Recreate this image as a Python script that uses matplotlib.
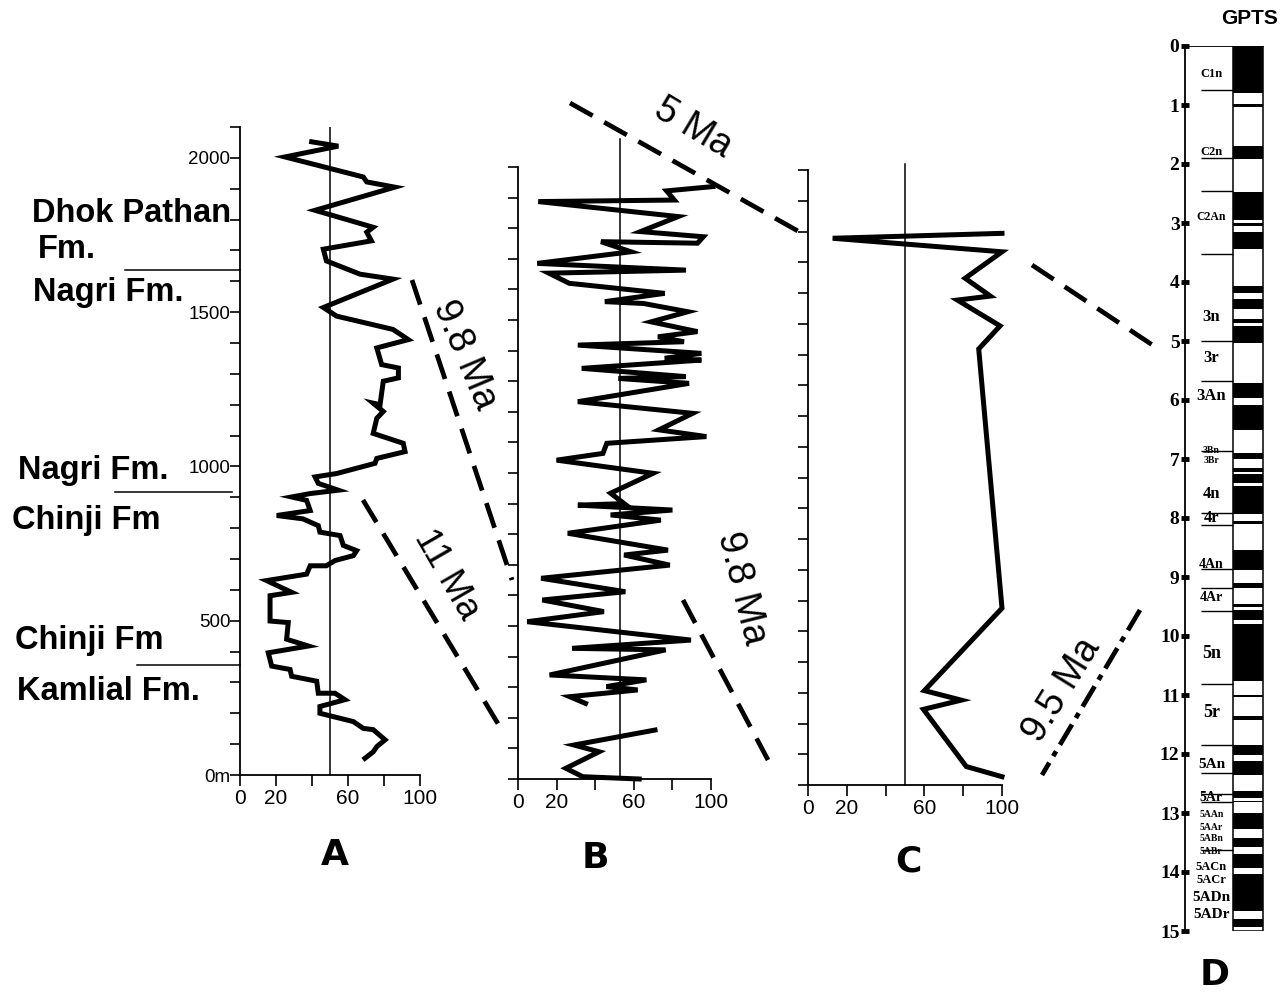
import numpy as np
import matplotlib.pyplot as plt
from matplotlib.ticker import FixedLocator

W, H = 1281, 992

# ---------------- data ----------------
# Panel A: value vs stratigraphic level (m)
a_val = [39.8, 54.6, 25, 68.5, 70.4, 86, 41.7, 74, 70.4, 73, 46.3, 48, 66.7, 85, 46.3,
         53.7, 85, 93.5, 76, 78.7, 88, 88, 79.6, 77.8, 74, 79.6, 76, 74, 90.7, 91.7,
         76, 75, 53.7, 41.7, 43.5, 54.6, 38.9, 28.7, 37, 39, 20.4, 35, 43.5, 44.4, 55.6,
         57.4, 64.8, 63, 52.8, 48, 39, 37, 14.8, 28.7, 16.7, 16.7, 26.8, 25.9, 38, 15.7,
         17.6, 27.8, 28.7, 42.6, 43.5, 52.8, 58.3, 44.4, 44.4, 63, 68.5, 74, 80.6, 76,
         74, 69.4]
a_dep = [2052, 2038, 2003, 1938, 1922, 1905, 1830, 1775, 1759, 1731, 1704, 1666, 1623,
         1607, 1515, 1487, 1444, 1411, 1384, 1330, 1319, 1287, 1276, 1200, 1205, 1178,
         1156, 1107, 1075, 1048, 1026, 1010, 977, 966, 945, 923, 912, 901, 890, 857, 841,
         830, 808, 787, 776, 744, 727, 711, 695, 678, 678, 651, 630, 592, 581, 499, 494,
         440, 418, 396, 353, 342, 320, 304, 265, 265, 244, 222, 200, 173, 151, 147, 114,
         92, 75, 54]

# Panel B
b_val = [101, 77, 81, 10.5, 83, 63.5, 96, 93, 43, 58.5, 10, 87, 16, 26.5, 76, 45, 65, 88,
         69, 93, 72.5, 86, 31, 95, 76, 95, 33, 87, 52, 88.6, 31, 90.5, 73, 97.6, 46, 44,
         20, 70, 48, 55, 31, 80, 48, 74, 25.8, 77.7, 55, 78.6, 12, 55.6, 12.6, 44.5, 4.8,
         89.6, 28, 76.5, 16.4, 66.5, 45.8, 62, 26.8, 35, np.nan, 71, 29, 42, 24.8, 33.5,
         62.8]
b_dep = [1936, 1922, 1892, 1887, 1838, 1789, 1772, 1751, 1756, 1723, 1685, 1663, 1653,
         1620, 1587, 1560, 1554, 1527, 1494, 1462, 1445, 1429, 1418, 1391, 1375, 1369,
         1342, 1315, 1309, 1293, 1233, 1195, 1141, 1119, 1097, 1064, 1042, 999, 934, 900,
         895, 879, 863, 846, 803, 748, 732, 699, 656, 612, 585, 547, 514, 454, 427, 422,
         340, 324, 302, 291, 269, 247, np.nan, 160, 111, 89, 35, 7.5, 0]

# Panel C
c_val = [100, 12.7, 100, 81, 94, 77, 99, 88, 100, 60, 79, 59.5, 81.6, 100]
c_dep = [1794, 1778, 1734, 1648, 1590, 1577, 1493, 1418, 575, 307, 276, 246, 60, 27]

ref_val = {'A': 50, 'B': 53, 'C': 50}

# Panel D: GPTS normal-polarity intervals (Ma)
gpts_top = [0, 0.98, 1.70, 2.47, 3.0, 3.15, 4.07, 4.29, 4.62, 4.75, 5.72, 6.08, 6.89,
            7.15, 7.26, 7.46, 8.05, 8.54, 9.11, 9.45, 9.56, 9.79, 11.0, 11.35, 11.84,
            12.12, 12.62, 12.79, 13.0, 13.42, 13.70, 14.03, 14.80]
gpts_bot = [0.80, 1.04, 1.92, 2.95, 3.05, 3.44, 4.18, 4.45, 4.70, 5.03, 5.97, 6.51, 7.0,
            7.22, 7.40, 7.93, 8.10, 8.88, 9.18, 9.51, 9.73, 10.77, 11.04, 11.42, 12.01,
            12.35, 12.74, 12.82, 13.27, 13.58, 13.94, 14.66, 14.94]
chron_names = ['C1n', 'C2n', 'C2An', '3n', '3r', '3An', '3Bn', '3Br', '4n', '4r', '4An',
               '4Ar', '5n', '5r', '5An', '5Ar', '5AAn', '5AAr', '5ABn', '5ABr', '5ACn',
               '5ACr', '5ADn', '5ADr']
chron_age = [0.47, 1.8, 2.9, 4.6, 5.28, 5.93, 6.85, 7.02, 7.59, 8.0, 8.78, 9.35, 10.3,
             11.3, 12.17, 12.74, 13.02, 13.25, 13.44, 13.65, 13.92, 14.13, 14.43, 14.72]
chron_size = [9, 9, 8.5, 12, 12, 12, 7, 7, 12, 12, 10, 10, 13, 13, 11, 10, 7, 7, 7, 7,
              9, 9, 11, 11]
chron_bounds = [0.75, 1.9, 2.45, 3.53, 5.0, 5.67, 6.87, 7.91, 8.12, 8.87, 9.18, 9.58,
                10.81, 11.85, 12.32, 12.68, 12.82, 13.62]

plt.rcParams['font.family'] = ['Liberation Sans', 'DejaVu Sans']

fig = plt.figure(figsize=(W / 100, H / 100), dpi=100)


def px_axes(x0, y0, x1, y1):
    return fig.add_axes([x0 / W, 1 - y1 / H, (x1 - x0) / W, (y1 - y0) / H])


def style_log(ax, top, labels):
    for s in ['top', 'right']:
        ax.spines[s].set_visible(False)
    ax.spines['left'].set_linewidth(1.3)
    ax.spines['bottom'].set_linewidth(1.3)
    ax.set_xlim(0, 100)
    ax.set_ylim(0, top)
    ax.xaxis.set_major_locator(FixedLocator([0, 20, 40, 60, 80, 100]))
    ax.set_xticklabels(['0', '20', '', '60', '', '100'], fontsize=15)
    yt = np.arange(0, top + 1, 100)
    ax.yaxis.set_major_locator(FixedLocator(yt))
    if labels:
        ax.set_yticklabels([('0m' if v == 0 else str(int(v))) if v % 500 == 0 else ''
                            for v in yt], fontsize=13.5)
    else:
        ax.set_yticklabels([])
    ax.tick_params(direction='out', length=8, width=1.2, pad=2)
    ax.tick_params(axis='y', length=7, pad=0)
    ax.patch.set_alpha(0)


# Panel A
axA = px_axes(240, 127, 420, 775)
style_log(axA, 2100, True)
axA.axvline(ref_val['A'], color='black', lw=1.1)
axA.plot(a_val, a_dep, color='black', lw=3.6, solid_joinstyle='miter', clip_on=False)

# Panel B
axB = px_axes(518, 167, 711, 779)
style_log(axB, 2000, False)
axB.plot([ref_val['B']] * 2, [0, 2090], color='black', lw=1.1, clip_on=False)
axB.plot(b_val, b_dep, color='black', lw=3.6, solid_joinstyle='miter', clip_on=False)

# Panel C
axC = px_axes(808, 170, 1002, 785)
style_log(axC, 2000, False)
axC.plot([ref_val['C']] * 2, [0, 2020], color='black', lw=1.1, clip_on=False)
axC.plot(c_val, c_dep, color='black', lw=3.6, solid_joinstyle='miter', clip_on=False)

# Panel D: GPTS
axD = px_axes(1185, 46, 1265, 931)
axD.set_xlim(0, 1)
axD.set_ylim(15, 0)
for s in ['top', 'right', 'bottom']:
    axD.spines[s].set_visible(False)
axD.spines['left'].set_linewidth(1.3)
axD.set_xticks([])
axD.set_yticks(np.arange(0, 16))
axD.set_yticklabels([str(i) for i in range(16)], fontsize=14, fontweight='bold',
                    family='Liberation Serif')
axD.tick_params(axis='y', direction='inout', length=6, width=3.5, pad=1)
col_x0, col_x1 = 0.6, 0.98
axD.bar((col_x0 + col_x1) / 2, np.array(gpts_bot) - np.array(gpts_top),
        bottom=gpts_top, width=col_x1 - col_x0, color='black', edgecolor='none')
axD.plot([col_x0, col_x0, col_x1, col_x1], [0, 15, 15, 0], color='black', lw=1.1)
axD.plot([0, col_x1], [0, 0], color='black', lw=1.3)
axD.hlines(chron_bounds, 0.2, col_x0, color='black', lw=1.0)
for name, age, fs in zip(chron_names, chron_age, chron_size):
    axD.text(0.33, age, name, fontsize=fs, fontweight='bold', family='Liberation Serif',
             ha='center', va='center')
axD.patch.set_alpha(0)

# ---------------- annotation overlay (pixel coordinates) ----------------
ov = fig.add_axes([0, 0, 1, 1])
ov.set_xlim(0, W)
ov.set_ylim(H, 0)
ov.axis('off')
ov.patch.set_alpha(0)

dash = dict(color='black', lw=3.4, dashes=(5.5, 2.8), solid_capstyle='butt')
ov.plot([570, 805], [103, 235], **dash)
ov.plot([412, 512], [280, 580], **dash)
ov.plot([363, 500], [500, 727], **dash)
ov.plot([683, 768], [600, 760], **dash)
ov.plot([1032, 1160], [265, 350], **dash)
ov.plot([1140, 1042], [610, 775], color='black', lw=3.4, dashes=(5, 1.6, 1.2, 1.6))

ov.text(693, 128, '5 Ma', rotation=-31, fontsize=27, ha='center', va='center')
ov.text(465, 355, '9.8 Ma', rotation=-67, fontsize=27, ha='center', va='center')
ov.text(447, 575, '11 Ma', rotation=-60, fontsize=26, ha='center', va='center')
ov.text(742, 588, '9.8 Ma', rotation=-76, fontsize=27, ha='center', va='center')
ov.text(1062, 690, '9.5 Ma', rotation=58, fontsize=27, ha='center', va='center')

# formation names and boundaries
fm = dict(fontsize=23.5, fontweight='bold', ha='left', va='center')
ov.text(32, 214, 'Dhok Pathan', **fm)
ov.text(38, 250, 'Fm.', **fm)
ov.text(33, 292, 'Nagri Fm.', **fm)
ov.text(18, 470, 'Nagri Fm.', **fm)
ov.text(12, 521, 'Chinji Fm', **fm)
ov.text(15, 640, 'Chinji Fm', **fm)
ov.text(17, 692, 'Kamlial Fm.', **fm)
ov.plot([125, 240], [270, 270], color='black', lw=1.1)
ov.plot([115, 232], [492, 492], color='black', lw=1.1)
ov.plot([137, 240], [665, 665], color='black', lw=1.1)

# panel letters
pl = dict(fontsize=26, fontweight='bold', family='DejaVu Sans', ha='center', va='center')
ov.text(335, 855, 'A', **pl)
ov.text(595, 858, 'B', **pl)
ov.text(908, 862, 'C', **pl)
ov.text(1215, 975, 'D', **pl)
ov.text(1250, 18, 'GPTS', fontsize=15, fontweight='bold', ha='center', va='center')

fig.savefig('out.png', dpi=100)
